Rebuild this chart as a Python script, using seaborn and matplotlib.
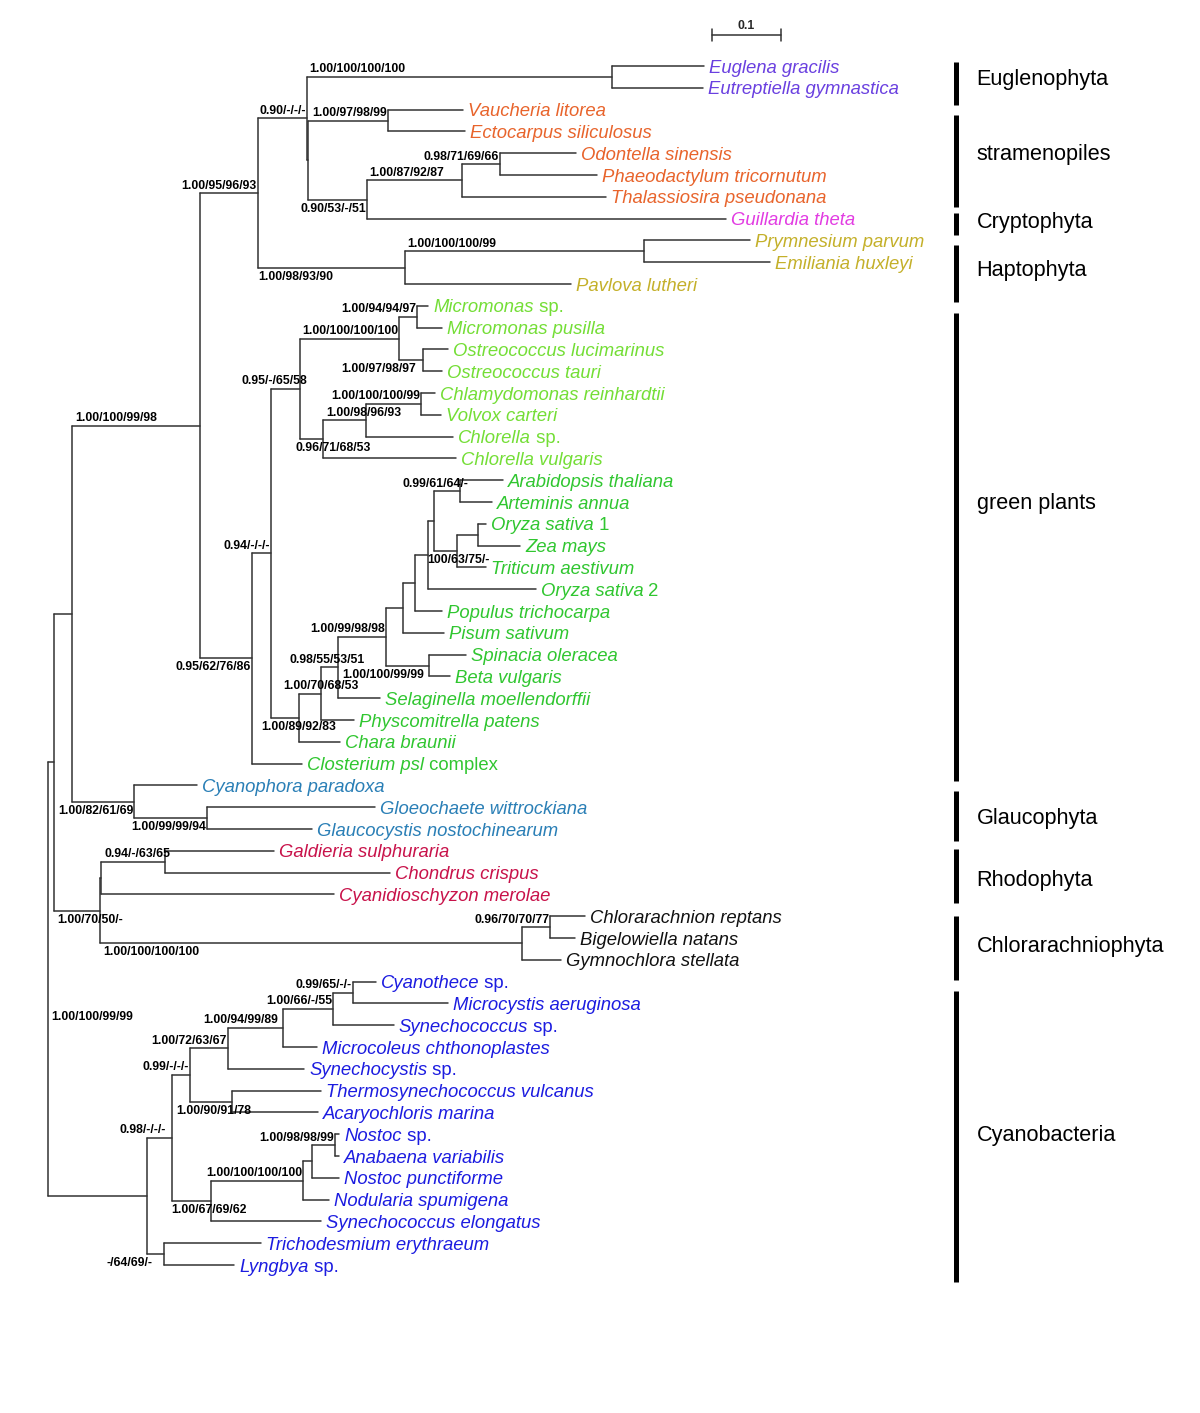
import pandas as pd
import seaborn as sns
import matplotlib.pyplot as plt

# ---- tips (top to bottom), depth from root in substitutions/site ----
tip_names = [
    'Euglena gracilis', 'Eutreptiella gymnastica', 'Vaucheria litorea', 'Ectocarpus siliculosus',
    'Odontella sinensis', 'Phaeodactylum tricornutum', 'Thalassiosira pseudonana', 'Guillardia theta',
    'Prymnesium parvum', 'Emiliania huxleyi', 'Pavlova lutheri', 'Micromonas sp.',
    'Micromonas pusilla', 'Ostreococcus lucimarinus', 'Ostreococcus tauri', 'Chlamydomonas reinhardtii',
    'Volvox carteri', 'Chlorella sp.', 'Chlorella vulgaris', 'Arabidopsis thaliana',
    'Arteminis annua', 'Oryza sativa 1', 'Zea mays', 'Triticum aestivum',
    'Oryza sativa 2', 'Populus trichocarpa', 'Pisum sativum', 'Spinacia oleracea',
    'Beta vulgaris', 'Selaginella moellendorffii', 'Physcomitrella patens', 'Chara braunii',
    'Closterium psl complex', 'Cyanophora paradoxa', 'Gloeochaete wittrockiana', 'Glaucocystis nostochinearum',
    'Galdieria sulphuraria', 'Chondrus crispus', 'Cyanidioschyzon merolae', 'Chlorarachnion reptans',
    'Bigelowiella natans', 'Gymnochlora stellata', 'Cyanothece sp.', 'Microcystis aeruginosa',
    'Synechococcus sp.', 'Microcoleus chthonoplastes', 'Synechocystis sp.', 'Thermosynechococcus vulcanus',
    'Acaryochloris marina', 'Nostoc sp.', 'Anabaena variabilis', 'Nostoc punctiforme',
    'Nodularia spumigena', 'Synechococcus elongatus', 'Trichodesmium erythraeum', 'Lyngbya sp.',
]
tip_depth = [
    0.951, 0.949, 0.601, 0.604, 0.765, 0.796, 0.809, 0.983,
    1.017, 1.046, 0.758, 0.551, 0.571, 0.580, 0.571, 0.561,
    0.570, 0.587, 0.591, 0.659, 0.643, 0.635, 0.684, 0.635,
    0.707, 0.571, 0.574, 0.606, 0.583, 0.481, 0.443, 0.423,
    0.368, 0.216, 0.474, 0.383, 0.328, 0.496, 0.414, 0.778,
    0.764, 0.743, 0.475, 0.580, 0.501, 0.390, 0.371, 0.396,
    0.391, 0.422, 0.422, 0.422, 0.407, 0.396, 0.309, 0.270,
]
tip_group = (['eug'] * 2 + ['stram'] * 5 + ['crypt'] + ['hapto'] * 3 + ['chloro'] * 8
             + ['strepto'] * 14 + ['glauco'] * 3 + ['rhodo'] * 3 + ['chlorar'] * 3 + ['cyano'] * 14)
upright_words = ['sp.', '1', '2', 'complex']

# ---- internal nodes ----
node_names = [
    'root', 'n_a', 'n_b', 'n_c', 'n_d', 'n_e', 'n_eug', 'n_e2', 'n_st1', 'n_st2', 'n_st3', 'n_st4',
    'n_hap', 'n_hap2', 'n_green', 'n_g1', 'n_chloro', 'n_mam', 'n_micro', 'n_ostreo', 'n_cc', 'n_cc2',
    'n_chlamy', 'n_s1', 'n_s2', 'n_s3', 'n_s4', 'n_s5', 'n_s6', 'n_s7', 'n_s8', 'n_dicot', 'n_mono',
    'n_oz', 'n_spin', 'n_glauco', 'n_gl2', 'n_rc', 'n_rc2', 'n_rho', 'n_chlor', 'n_chl2', 'n_cyano',
    'n_cy1', 'n_cy2', 'n_cy4', 'n_cy5', 'n_cy6', 'n_cy7', 'n_thermo', 'n_cy3', 'n_nos1', 'n_nos2',
    'n_nos3', 'n_tri',
]
node_children = [
    ('n_a', 'n_cyano'), ('n_b', 'n_rc'), ('n_c', 'n_glauco'), ('n_d', 'n_green'), ('n_e', 'n_hap'),
    ('n_eug', 'n_e2'), ('Euglena gracilis', 'Eutreptiella gymnastica'), ('n_st1', 'n_st2'),
    ('Vaucheria litorea', 'Ectocarpus siliculosus'), ('n_st3', 'Guillardia theta'),
    ('n_st4', 'Thalassiosira pseudonana'), ('Odontella sinensis', 'Phaeodactylum tricornutum'),
    ('n_hap2', 'Pavlova lutheri'), ('Prymnesium parvum', 'Emiliania huxleyi'),
    ('n_g1', 'Closterium psl complex'), ('n_chloro', 'n_s1'), ('n_mam', 'n_cc'), ('n_micro', 'n_ostreo'),
    ('Micromonas sp.', 'Micromonas pusilla'), ('Ostreococcus lucimarinus', 'Ostreococcus tauri'),
    ('n_cc2', 'Chlorella vulgaris'), ('n_chlamy', 'Chlorella sp.'),
    ('Chlamydomonas reinhardtii', 'Volvox carteri'), ('n_s2', 'Chara braunii'),
    ('n_s3', 'Physcomitrella patens'), ('n_s4', 'Selaginella moellendorffii'), ('n_s5', 'n_spin'),
    ('n_s6', 'Pisum sativum'), ('n_s7', 'Populus trichocarpa'), ('n_s8', 'Oryza sativa 2'),
    ('n_dicot', 'n_mono'), ('Arabidopsis thaliana', 'Arteminis annua'), ('n_oz', 'Triticum aestivum'),
    ('Oryza sativa 1', 'Zea mays'), ('Spinacia oleracea', 'Beta vulgaris'),
    ('Cyanophora paradoxa', 'n_gl2'), ('Gloeochaete wittrockiana', 'Glaucocystis nostochinearum'),
    ('n_rc2', 'n_chlor'), ('n_rho', 'Cyanidioschyzon merolae'), ('Galdieria sulphuraria', 'Chondrus crispus'),
    ('n_chl2', 'Gymnochlora stellata'), ('Chlorarachnion reptans', 'Bigelowiella natans'),
    ('n_cy1', 'n_tri'), ('n_cy2', 'n_cy3'), ('n_cy4', 'n_thermo'), ('n_cy5', 'Synechocystis sp.'),
    ('n_cy6', 'Microcoleus chthonoplastes'), ('n_cy7', 'Synechococcus sp.'),
    ('Cyanothece sp.', 'Microcystis aeruginosa'), ('Thermosynechococcus vulcanus', 'Acaryochloris marina'),
    ('n_nos1', 'Synechococcus elongatus'), ('n_nos2', 'Nodularia spumigena'),
    ('n_nos3', 'Nostoc punctiforme'), ('Nostoc sp.', 'Anabaena variabilis'),
    ('Trichodesmium erythraeum', 'Lyngbya sp.'),
]
node_depth = [
    0.000, 0.009, 0.035, 0.220, 0.304, 0.375, 0.817, 0.377, 0.493, 0.462, 0.600, 0.655,
    0.517, 0.864, 0.296, 0.323, 0.365, 0.509, 0.535, 0.543, 0.399, 0.461,
    0.541, 0.364, 0.396, 0.420, 0.490, 0.514, 0.532, 0.551, 0.559, 0.597, 0.593,
    0.623, 0.552, 0.125, 0.230, 0.075, 0.077, 0.170, 0.687, 0.728, 0.143,
    0.180, 0.206, 0.261, 0.341, 0.413, 0.442, 0.267, 0.236, 0.370, 0.383,
    0.416, 0.168,
]
node_support = [
    '', '', '', '1.00/100/99/98', '1.00/95/96/93', '0.90/-/-/-', '1.00/100/100/100', '',
    '1.00/97/98/99', '0.90/53/-/51', '1.00/87/92/87', '0.98/71/69/66',
    '1.00/98/93/90', '1.00/100/100/99', '0.95/62/76/86', '0.94/-/-/-', '0.95/-/65/58',
    '1.00/100/100/100', '1.00/94/94/97', '1.00/97/98/97', '0.96/71/68/53', '1.00/98/96/93',
    '1.00/100/100/99', '1.00/89/92/83', '1.00/70/68/53', '0.98/55/53/51', '1.00/99/98/98',
    '', '', '', '', '0.99/61/64/-', '100/63/75/-',
    '', '1.00/100/99/99', '1.00/82/61/69', '1.00/99/99/94', '1.00/70/50/-', '', '0.94/-/63/65',
    '1.00/100/100/100', '0.96/70/70/77', '1.00/100/99/99',
    '0.98/-/-/-', '0.99/-/-/-', '1.00/72/63/67', '1.00/94/99/89', '1.00/66/-/55', '0.99/65/-/-',
    '1.00/90/91/78', '1.00/67/69/62', '1.00/100/100/100', '',
    '1.00/98/98/99', '-/64/69/-',
]

# ---- clade bars (in tip-row units) ----
clade_names = ['Euglenophyta', 'stramenopiles', 'Cryptophyta', 'Haptophyta', 'green plants',
               'Glaucophyta', 'Rhodophyta', 'Chlorarachniophyta', 'Cyanobacteria']
clade_top = [-0.18, 2.25, 6.74, 8.21, 11.33, 33.26, 35.92, 38.99, 42.43]
clade_bottom = [1.79, 6.47, 7.75, 10.83, 32.80, 35.55, 38.39, 41.93, 55.78]
clade_label_y = [0.60, 4.08, 7.16, 9.36, 20.09, 34.50, 37.34, 40.41, 49.04]

scale_start = 0.962
scale_length = 0.1

# ---- styling ----
group_colors = {
    'eug': '#6a40e0', 'stram': '#e8642c', 'crypt': '#e23ce2', 'hapto': '#c4b02a',
    'chloro': '#74de36', 'strepto': '#30c630', 'glauco': '#2a7fb6', 'rhodo': '#c8124a',
    'chlorar': '#111111', 'cyano': '#1c1ce0',
}
# label placement: mode, dx px, dy px
label_place = {
    'n_c': ('ar', 0, 0), 'n_d': ('al', 0, 0), 'n_e': ('al', 0, 0), 'n_eug': ('ar', 0, 0),
    'n_st1': ('al', 0, 0), 'n_st2': ('bl', 0, 0), 'n_st3': ('ar', -1, 0), 'n_st4': ('al', 0, 0),
    'n_hap': ('br', -3, 0), 'n_hap2': ('ar', 0, 0), 'n_green': ('bl', 0, 0), 'n_g1': ('al', 0, 0),
    'n_chloro': ('al', 8, 0), 'n_mam': ('al', 0, 0), 'n_micro': ('al', 0, 0), 'n_ostreo': ('bl', -6, 0),
    'n_cc': ('br', -7, 0), 'n_cc2': ('ar', 0, 0), 'n_chlamy': ('al', 0, 0), 'n_s1': ('bc', 0, 0),
    'n_s2': ('ac', 0, 0), 'n_s3': ('ac', -11, 0), 'n_s4': ('al', 0, 0), 'n_dicot': ('al', 9, 0),
    'n_mono': ('br', -9, 0), 'n_spin': ('bl', -4, 0), 'n_glauco': ('bl', 0, 0), 'n_gl2': ('bl', 0, 0),
    'n_rc': ('br', 0, 0), 'n_rho': ('ar', 0, 0), 'n_chlor': ('br', 0, 0), 'n_chl2': ('al', 0, 0),
    'n_cyano': ('ar', 0, -172), 'n_cy1': ('al', -5, 0), 'n_cy2': ('al', 0, 0), 'n_cy4': ('al', 0, 0),
    'n_cy5': ('al', -4, 0), 'n_cy6': ('al', 0, 0), 'n_cy7': ('al', 0, 0), 'n_thermo': ('bl', 20, 0),
    'n_cy3': ('br', -4, 0), 'n_nos1': ('al', 0, 0), 'n_nos3': ('al', 0, 0), 'n_tri': ('bl', -10, 0),
}

# ---- layout ----
xpos = dict(zip(tip_names, tip_depth))
xpos.update(dict(zip(node_names, node_depth)))
ypos = {n: i for i, n in enumerate(tip_names)}
children = dict(zip(node_names, node_children))
parent = {c: n for n, cs in children.items() for c in cs}


def node_y(n):
    if n not in ypos:
        ypos[n] = sum(node_y(c) for c in children[n]) / 2
    return ypos[n]


node_y('root')

rows = []
for n, (c1, c2) in children.items():
    rows += [(f'{n}_v', xpos[n], ypos[c1]), (f'{n}_v', xpos[n], ypos[c2])]
    for c in (c1, c2):
        rows += [(f'{c}_h', xpos[n], ypos[c]), (f'{c}_h', xpos[c], ypos[c])]
seg = pd.DataFrame(rows, columns=['seg', 'x', 'y'])

sns.set_theme(style='white')
plt.rcParams['font.family'] = ['Liberation Sans', 'DejaVu Sans']

fig = plt.figure(figsize=(12, 14.13), dpi=100)
ax = fig.add_axes([0, 0, 1, 1])
px_x = 1 / 690.0   # data units per pixel
px_y = 1 / 21.8

sns.lineplot(data=seg, x='x', y='y', units='seg', estimator=None, sort=False,
             color='#333333', lw=1.1, ax=ax, legend=False)
ax.set_xlim(-48 * px_x, 1152 * px_x)
ax.set_ylim(1347 * px_y, -66 * px_y)
ax.axis('off')

# tip labels
for name, grp in zip(tip_names, tip_group):
    words = name.split()
    k = next((i for i, w in enumerate(words) if w in upright_words), len(words))
    ital, rest = ' '.join(words[:k]), ' '.join(words[k:])
    col = group_colors[grp]
    t = ax.text(xpos[name] + 5 * px_x, ypos[name], ital, style='italic', fontsize=13.3,
                color=col, ha='left', va='center_baseline')
    if rest:
        ax.annotate(' ' + rest, xy=(1, 0), xycoords=t, ha='left', va='bottom',
                    fontsize=13.3, color=col)

# support values
for n, s in zip(node_names, node_support):
    if not s:
        continue
    mode, dx, dy = label_place[n]
    xn, yn = xpos[n], ypos[n]
    xp = xpos[parent[n]]
    if mode[0] == 'a':
        y, va = yn - 1.5 * px_y, 'bottom'
    else:
        y, va = yn + 3 * px_y, 'top'
    if mode[1] == 'l':
        x, ha = xn - 1 * px_x, 'right'
    elif mode[1] == 'r':
        x, ha = xp + 3 * px_x, 'left'
    else:
        x, ha = xn, 'center'
    ax.text(x + dx * px_x, y + dy * px_y, s, fontsize=8.8, fontweight='bold',
            color='black', ha=ha, va=va)

# clade bars
bar_x = 907.5 * px_x
for name, top, bot, ly in zip(clade_names, clade_top, clade_bottom, clade_label_y):
    ax.plot([bar_x, bar_x], [top, bot], color='black', lw=3.6, solid_capstyle='butt')
    ax.text(bar_x + 21 * px_x, ly, name, fontsize=15.6, color='black', ha='left', va='center')

# scale bar
sy = -31 * px_y
ax.plot([scale_start, scale_start + scale_length], [sy, sy], color='#333333', lw=1.1)
for xe in (scale_start, scale_start + scale_length):
    ax.plot([xe, xe], [sy - 6 * px_y, sy + 6 * px_y], color='#333333', lw=1.1)
ax.text(scale_start + scale_length / 2, sy - 3 * px_y, '0.1', fontsize=8.8,
        fontweight='bold', ha='center', va='bottom')

fig.savefig('out.png', dpi=100, facecolor='white')
